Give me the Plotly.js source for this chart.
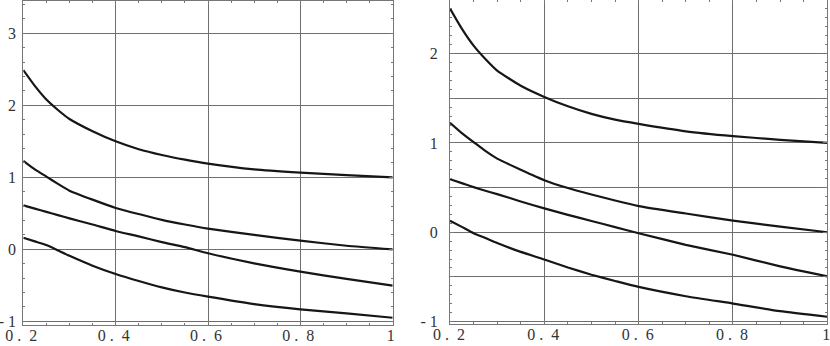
<!DOCTYPE html>
<html>
<head>
<meta charset="utf-8">
<script src="https://cdn.plot.ly/plotly-3.0.1.min.js"></script>
<style>html,body{margin:0;padding:0;background:#fff;}#chart{width:830px;height:346px;}</style>
</head>
<body>
<div id="chart"></div>
<script>
// Shared x samples
const xs = [0.2,0.225,0.25,0.275,0.3,0.35,0.4,0.45,0.5,0.55,0.6,0.7,0.8,0.9,1.0];

// Left panel curves
const left1 = [2.49,2.27,2.08,1.935,1.81,1.64,1.50,1.39,1.31,1.245,1.19,1.11,1.065,1.03,1.0];
const left2 = [1.23,1.11,1.01,0.91,0.815,0.69,0.575,0.49,0.41,0.345,0.287,0.2,0.12,0.05,0.0];
const left3 = [0.61,0.565,0.52,0.475,0.43,0.345,0.255,0.18,0.10,0.03,-0.055,-0.195,-0.31,-0.41,-0.505];
const left4 = [0.16,0.11,0.06,-0.015,-0.09,-0.227,-0.343,-0.44,-0.528,-0.60,-0.657,-0.76,-0.833,-0.889,-0.95];

// Right panel curves
const right1 = [2.505,2.28,2.09,1.94,1.81,1.64,1.515,1.41,1.325,1.26,1.213,1.13,1.076,1.035,1.0];
const right2 = [1.225,1.11,1.01,0.91,0.824,0.70,0.583,0.495,0.423,0.355,0.293,0.21,0.13,0.063,0.0];
const right3 = [0.594,0.55,0.505,0.465,0.427,0.345,0.267,0.195,0.126,0.058,-0.011,-0.141,-0.252,-0.382,-0.494];
const right4 = [0.13,0.06,-0.011,-0.065,-0.12,-0.22,-0.305,-0.395,-0.475,-0.545,-0.612,-0.716,-0.798,-0.883,-0.946];

// Tick labels
const xTickVals = [0.2,0.4,0.6,0.8,1.0];
const xTickText = ["0 . \u00a02","0 . \u00a04","0 . \u00a06","0 . \u00a08","1"];
const leftYTickVals = [-1,0,1,2,3];
const leftYTickText = ["- 1","0","1","2","3"];
const rightYTickVals = [-1,-0.5,0,0.5,1,1.5,2];
const rightYTickText = ["- 1","","0","","1","","2"];

const lineStyle = {color:'#161616', width:2.2, shape:'spline', smoothing:0.5};
const traces = [];
[left1,left2,left3,left4].forEach(ys => traces.push({x:xs, y:ys, xaxis:'x', yaxis:'y', mode:'lines', line:lineStyle, hoverinfo:'skip'}));
[right1,right2,right3,right4].forEach(ys => traces.push({x:xs, y:ys, xaxis:'x2', yaxis:'y2', mode:'lines', line:lineStyle, hoverinfo:'skip'}));

const tickFont = {family:'Liberation Serif, Times New Roman, serif', size:16, color:'#333'};
const common = {
  showline:true, linecolor:'#777', linewidth:1, mirror:'allticks',
  ticks:'inside', ticklen:4, tickcolor:'#777',
  showgrid:true, gridcolor:'#6e6e6e', gridwidth:1,
  zeroline:false, tickfont:tickFont, automargin:false, fixedrange:true,
  ticklabeloverflow:'allow'
};

const layout = {
  width:830, height:346,
  margin:{l:0,r:0,t:0,b:0},
  paper_bgcolor:'#fff', plot_bgcolor:'#fff',
  showlegend:false,
  font:{family:'Liberation Serif, Times New Roman, serif'},
  xaxis: Object.assign({}, common, {
    domain:[23.3/830, 392.7/830], range:[0.2,1.0],
    tickmode:'array', tickvals:xTickVals, ticktext:xTickText,
    minor:{dtick:0.05, ticks:'inside', ticklen:2, tickcolor:'#777', showgrid:false},
    ticklabelstandoff:-4, ticklabelshift:-2, anchor:'y'
  }),
  yaxis: Object.assign({}, common, {
    domain:[21/346, 345/346], range:[-1.051,3.449],
    tickmode:'array', tickvals:leftYTickVals, ticktext:leftYTickText,
    minor:{dtick:0.2, tick0:0, ticks:'inside', ticklen:2, tickcolor:'#777', showgrid:false},
    ticklabelstandoff:3, anchor:'x'
  }),
  xaxis2: Object.assign({}, common, {
    domain:[450/830, 827.3/830], range:[0.2,1.0],
    tickmode:'array', tickvals:xTickVals, ticktext:xTickText,
    minor:{dtick:0.05, ticks:'inside', ticklen:2, tickcolor:'#777', showgrid:false},
    ticklabelstandoff:-4, ticklabelshift:-1, anchor:'y2'
  }),
  yaxis2: Object.assign({}, common, {
    domain:[22/346, 1], range:[-1.027,2.6],
    tickmode:'array', tickvals:rightYTickVals, ticktext:rightYTickText,
    minor:{dtick:0.1, tick0:0, ticks:'inside', ticklen:2, tickcolor:'#777', showgrid:false},
    ticklabelstandoff:8, anchor:'x2'
  })
};

Plotly.newPlot('chart', traces, layout, {staticPlot:true, displayModeBar:false});
</script>
</body>
</html>
